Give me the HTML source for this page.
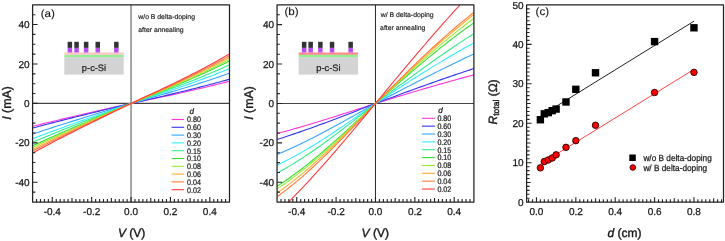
<!DOCTYPE html>
<html><head><meta charset="utf-8"><style>html,body{margin:0;padding:0;background:#fff;width:725px;height:241px;overflow:hidden}svg{display:block;will-change:transform}text{text-rendering:geometricPrecision}</style></head>
<body>
<svg width="725" height="241" viewBox="0 0 725 241" style="font-family:&quot;Liberation Sans&quot;, sans-serif">
<rect width="725" height="241" fill="#fff"/>
<defs>
<clipPath id="clipa"><rect x="32.6" y="4.85" width="196.9" height="197.15"/></clipPath>
<clipPath id="clipb"><rect x="277.05" y="4.9" width="196.84999999999997" height="197.1"/></clipPath>
</defs>
<path d="M131.05 4.85V202.0" stroke="#808080" stroke-width="1.4" fill="none"/>
<path d="M32.6 103.42H229.5" stroke="#444" stroke-width="1.1" fill="none"/>
<g clip-path="url(#clipa)" fill="none" stroke-width="1.1">
<polyline points="32.60,126.29 35.88,125.48 39.16,124.67 42.45,123.87 45.73,123.07 49.01,122.27 52.29,121.48 55.57,120.70 58.85,119.92 62.14,119.14 65.42,118.37 68.70,117.60 71.98,116.83 75.26,116.07 78.54,115.31 81.83,114.55 85.11,113.80 88.39,113.04 91.67,112.30 94.95,111.55 98.23,110.80 101.51,110.06 104.80,109.32 108.08,108.58 111.36,107.84 114.64,107.10 117.92,106.37 121.21,105.63 124.49,104.89 127.77,104.16 131.05,103.42 134.33,102.75 137.61,102.06 140.90,101.38 144.18,100.70 147.46,100.02 150.74,99.33 154.02,98.64 157.30,97.95 160.59,97.26 163.87,96.56 167.15,95.86 170.43,95.15 173.71,94.44 176.99,93.73 180.28,93.00 183.56,92.28 186.84,91.54 190.12,90.80 193.40,90.05 196.68,89.30 199.97,88.54 203.25,87.77 206.53,86.98 209.81,86.20 213.09,85.40 216.37,84.59 219.66,83.77 222.94,82.94 226.22,82.10 229.50,81.25" stroke="#ff33dd"/>
<polyline points="32.60,128.07 35.88,127.19 39.16,126.32 42.45,125.45 45.73,124.59 49.01,123.73 52.29,122.88 55.57,122.04 58.85,121.20 62.14,120.36 65.42,119.52 68.70,118.69 71.98,117.87 75.26,117.05 78.54,116.23 81.83,115.41 85.11,114.60 88.39,113.79 91.67,112.98 94.95,112.18 98.23,111.38 101.51,110.57 104.80,109.78 108.08,108.98 111.36,108.18 114.64,107.39 117.92,106.59 121.21,105.80 124.49,105.01 127.77,104.22 131.05,103.42 134.33,102.68 137.61,101.94 140.90,101.19 144.18,100.45 147.46,99.70 150.74,98.95 154.02,98.20 157.30,97.44 160.59,96.68 163.87,95.92 167.15,95.15 170.43,94.38 173.71,93.60 176.99,92.82 180.28,92.03 183.56,91.24 186.84,90.43 190.12,89.62 193.40,88.81 196.68,87.98 199.97,87.15 203.25,86.30 206.53,85.45 209.81,84.59 213.09,83.71 216.37,82.83 219.66,81.93 222.94,81.03 226.22,80.11 229.50,79.18" stroke="#3333ee"/>
<polyline points="32.60,134.08 35.88,132.99 39.16,131.90 42.45,130.83 45.73,129.76 49.01,128.69 52.29,127.63 55.57,126.58 58.85,125.53 62.14,124.49 65.42,123.45 68.70,122.42 71.98,121.39 75.26,120.37 78.54,119.35 81.83,118.34 85.11,117.33 88.39,116.32 91.67,115.32 94.95,114.31 98.23,113.32 101.51,112.32 104.80,111.33 108.08,110.33 111.36,109.34 114.64,108.35 117.92,107.37 121.21,106.38 124.49,105.40 127.77,104.41 131.05,103.42 134.33,102.50 137.61,101.57 140.90,100.64 144.18,99.71 147.46,98.78 150.74,97.84 154.02,96.90 157.30,95.96 160.59,95.01 163.87,94.06 167.15,93.10 170.43,92.14 173.71,91.17 176.99,90.19 180.28,89.21 183.56,88.21 186.84,87.21 190.12,86.20 193.40,85.18 196.68,84.15 199.97,83.11 203.25,82.06 206.53,80.99 209.81,79.92 213.09,78.83 216.37,77.72 219.66,76.61 222.94,75.47 226.22,74.33 229.50,73.16" stroke="#33a6ff"/>
<polyline points="32.60,138.81 35.88,137.55 39.16,136.30 42.45,135.06 45.73,133.82 49.01,132.59 52.29,131.37 55.57,130.15 58.85,128.94 62.14,127.74 65.42,126.54 68.70,125.35 71.98,124.17 75.26,122.99 78.54,121.81 81.83,120.64 85.11,119.47 88.39,118.31 91.67,117.15 94.95,115.99 98.23,114.84 101.51,113.69 104.80,112.55 108.08,111.40 111.36,110.26 114.64,109.12 117.92,107.98 121.21,106.84 124.49,105.70 127.77,104.56 131.05,103.42 134.33,102.36 137.61,101.29 140.90,100.22 144.18,99.15 147.46,98.08 150.74,97.00 154.02,95.92 157.30,94.84 160.59,93.75 163.87,92.66 167.15,91.55 170.43,90.45 173.71,89.33 176.99,88.21 180.28,87.08 183.56,85.94 186.84,84.78 190.12,83.62 193.40,82.45 196.68,81.26 199.97,80.07 203.25,78.86 206.53,77.63 209.81,76.39 213.09,75.14 216.37,73.87 219.66,72.59 222.94,71.28 226.22,69.97 229.50,68.63" stroke="#33eeff"/>
<polyline points="32.60,142.26 35.88,140.88 39.16,139.51 42.45,138.14 45.73,136.78 49.01,135.43 52.29,134.09 55.57,132.76 58.85,131.43 62.14,130.11 65.42,128.80 68.70,127.49 71.98,126.19 75.26,124.89 78.54,123.60 81.83,122.32 85.11,121.04 88.39,119.76 91.67,118.49 94.95,117.22 98.23,115.96 101.51,114.69 104.80,113.43 108.08,112.18 111.36,110.92 114.64,109.67 117.92,108.42 121.21,107.17 124.49,105.92 127.77,104.67 131.05,103.42 134.33,102.24 137.61,101.06 140.90,99.88 144.18,98.69 147.46,97.50 150.74,96.31 154.02,95.12 157.30,93.92 160.59,92.71 163.87,91.50 167.15,90.28 170.43,89.05 173.71,87.81 176.99,86.57 180.28,85.32 183.56,84.05 186.84,82.78 190.12,81.49 193.40,80.19 196.68,78.88 199.97,77.55 203.25,76.21 206.53,74.86 209.81,73.48 213.09,72.10 216.37,70.69 219.66,69.27 222.94,67.82 226.22,66.36 229.50,64.88" stroke="#33ee88"/>
<polyline points="32.60,145.81 35.88,144.30 39.16,142.80 42.45,141.31 45.73,139.83 49.01,138.36 52.29,136.89 55.57,135.44 58.85,133.99 62.14,132.55 65.42,131.12 68.70,129.69 71.98,128.27 75.26,126.86 78.54,125.45 81.83,124.04 85.11,122.65 88.39,121.25 91.67,119.87 94.95,118.48 98.23,117.10 101.51,115.72 104.80,114.35 108.08,112.98 111.36,111.61 114.64,110.24 117.92,108.88 121.21,107.51 124.49,106.15 127.77,104.79 131.05,103.42 134.33,102.13 137.61,100.83 140.90,99.52 144.18,98.22 147.46,96.91 150.74,95.60 154.02,94.29 157.30,92.97 160.59,91.64 163.87,90.31 167.15,88.97 170.43,87.62 173.71,86.26 176.99,84.89 180.28,83.51 183.56,82.12 186.84,80.72 190.12,79.30 193.40,77.87 196.68,76.43 199.97,74.97 203.25,73.50 206.53,72.01 209.81,70.50 213.09,68.97 216.37,67.43 219.66,65.86 222.94,64.27 226.22,62.67 229.50,61.04" stroke="#33dd33"/>
<polyline points="32.60,147.39 35.88,145.82 39.16,144.27 42.45,142.72 45.73,141.18 49.01,139.66 52.29,138.14 55.57,136.63 58.85,135.13 62.14,133.63 65.42,132.15 68.70,130.67 71.98,129.19 75.26,127.73 78.54,126.27 81.83,124.81 85.11,123.36 88.39,121.92 91.67,120.48 94.95,119.04 98.23,117.61 101.51,116.18 104.80,114.76 108.08,113.33 111.36,111.91 114.64,110.49 117.92,109.08 121.21,107.66 124.49,106.25 127.77,104.84 131.05,103.42 134.33,102.08 137.61,100.73 140.90,99.38 144.18,98.03 147.46,96.67 150.74,95.31 154.02,93.95 157.30,92.58 160.59,91.20 163.87,89.82 167.15,88.43 170.43,87.03 173.71,85.62 176.99,84.20 180.28,82.77 183.56,81.33 186.84,79.87 190.12,78.40 193.40,76.92 196.68,75.43 199.97,73.91 203.25,72.38 206.53,70.84 209.81,69.27 213.09,67.69 216.37,66.09 219.66,64.46 222.94,62.82 226.22,61.15 229.50,59.46" stroke="#99ee33"/>
<polyline points="32.60,149.36 35.88,147.72 39.16,146.10 42.45,144.48 45.73,142.88 49.01,141.28 52.29,139.70 55.57,138.12 58.85,136.55 62.14,134.99 65.42,133.43 68.70,131.89 71.98,130.35 75.26,128.82 78.54,127.29 81.83,125.77 85.11,124.26 88.39,122.75 91.67,121.24 94.95,119.74 98.23,118.25 101.51,116.75 104.80,115.26 108.08,113.78 111.36,112.29 114.64,110.81 117.92,109.33 121.21,107.85 124.49,106.38 127.77,104.90 131.05,103.42 134.33,102.02 137.61,100.61 140.90,99.20 144.18,97.78 147.46,96.37 150.74,94.95 154.02,93.52 157.30,92.09 160.59,90.65 163.87,89.21 167.15,87.75 170.43,86.29 173.71,84.82 176.99,83.34 180.28,81.84 183.56,80.34 186.84,78.82 190.12,77.28 193.40,75.73 196.68,74.17 199.97,72.59 203.25,70.99 206.53,69.38 209.81,67.74 213.09,66.09 216.37,64.41 219.66,62.71 222.94,61.00 226.22,59.25 229.50,57.49" stroke="#ffaa33"/>
<polyline points="32.60,151.04 35.88,149.34 39.16,147.66 42.45,145.98 45.73,144.32 49.01,142.66 52.29,141.02 55.57,139.38 58.85,137.76 62.14,136.14 65.42,134.53 68.70,132.93 71.98,131.33 75.26,129.74 78.54,128.16 81.83,126.59 85.11,125.02 88.39,123.45 91.67,121.89 94.95,120.34 98.23,118.79 101.51,117.24 104.80,115.70 108.08,114.15 111.36,112.62 114.64,111.08 117.92,109.55 121.21,108.02 124.49,106.48 127.77,104.95 131.05,103.42 134.33,101.97 137.61,100.51 140.90,99.04 144.18,97.58 147.46,96.11 150.74,94.64 154.02,93.16 157.30,91.68 160.59,90.19 163.87,88.69 167.15,87.18 170.43,85.67 173.71,84.14 176.99,82.60 180.28,81.06 183.56,79.49 186.84,77.92 190.12,76.33 193.40,74.72 196.68,73.10 199.97,71.46 203.25,69.81 206.53,68.13 209.81,66.44 213.09,64.72 216.37,62.99 219.66,61.23 222.94,59.45 226.22,57.64 229.50,55.81" stroke="#ff7a3d"/>
<polyline points="32.60,152.91 35.88,151.15 39.16,149.40 42.45,147.66 45.73,145.93 49.01,144.21 52.29,142.50 55.57,140.80 58.85,139.11 62.14,137.43 65.42,135.75 68.70,134.09 71.98,132.43 75.26,130.78 78.54,129.13 81.83,127.50 85.11,125.86 88.39,124.24 91.67,122.62 94.95,121.00 98.23,119.39 101.51,117.78 104.80,116.18 108.08,114.58 111.36,112.98 114.64,111.38 117.92,109.79 121.21,108.20 124.49,106.61 127.77,105.01 131.05,103.42 134.33,101.91 137.61,100.39 140.90,98.87 144.18,97.35 147.46,95.82 150.74,94.29 154.02,92.76 157.30,91.22 160.59,89.67 163.87,88.11 167.15,86.54 170.43,84.97 173.71,83.38 176.99,81.79 180.28,80.18 183.56,78.55 186.84,76.92 190.12,75.26 193.40,73.59 196.68,71.91 199.97,70.21 203.25,68.49 206.53,66.75 209.81,64.98 213.09,63.20 216.37,61.40 219.66,59.57 222.94,57.72 226.22,55.84 229.50,53.94" stroke="#ff3b3b"/>
</g>
<path d="M36.54 202.0v-3 M40.48 202.0v-3 M44.41 202.0v-3 M48.35 202.0v-3 M52.29 202.0v-5 M56.23 202.0v-3 M60.17 202.0v-3 M64.10 202.0v-3 M68.04 202.0v-3 M71.98 202.0v-4 M75.92 202.0v-3 M79.86 202.0v-3 M83.79 202.0v-3 M87.73 202.0v-3 M91.67 202.0v-5 M95.61 202.0v-3 M99.55 202.0v-3 M103.48 202.0v-3 M107.42 202.0v-3 M111.36 202.0v-4 M115.30 202.0v-3 M119.24 202.0v-3 M123.17 202.0v-3 M127.11 202.0v-3 M131.05 202.0v-5 M134.99 202.0v-3 M138.93 202.0v-3 M142.86 202.0v-3 M146.80 202.0v-3 M150.74 202.0v-4 M154.68 202.0v-3 M158.62 202.0v-3 M162.55 202.0v-3 M166.49 202.0v-3 M170.43 202.0v-5 M174.37 202.0v-3 M178.31 202.0v-3 M182.24 202.0v-3 M186.18 202.0v-3 M190.12 202.0v-4 M194.06 202.0v-3 M198.00 202.0v-3 M201.93 202.0v-3 M205.87 202.0v-3 M209.81 202.0v-5 M213.75 202.0v-3 M217.69 202.0v-3 M221.62 202.0v-3 M225.56 202.0v-3 M32.6 192.14h2.8 M32.6 182.28h5 M32.6 172.43h2.8 M32.6 162.57h2.8 M32.6 152.71h2.8 M32.6 142.86h5 M32.6 133.00h2.8 M32.6 123.14h2.8 M32.6 113.28h2.8 M32.6 103.42h5 M32.6 93.57h2.8 M32.6 83.71h2.8 M32.6 73.85h2.8 M32.6 64.00h5 M32.6 54.14h2.8 M32.6 44.28h2.8 M32.6 34.42h2.8 M32.6 24.56h5 M32.6 14.71h2.8" stroke="#222" stroke-width="1.1" fill="none"/>
<text x="52.29" y="215.20" font-size="10" text-anchor="middle" fill="#1a1a1a" stroke="#1a1a1a" stroke-width="0.27" >-0.4</text>
<text x="91.67" y="215.20" font-size="10" text-anchor="middle" fill="#1a1a1a" stroke="#1a1a1a" stroke-width="0.27" >-0.2</text>
<text x="131.05" y="215.20" font-size="10" text-anchor="middle" fill="#1a1a1a" stroke="#1a1a1a" stroke-width="0.27" >0.0</text>
<text x="170.43" y="215.20" font-size="10" text-anchor="middle" fill="#1a1a1a" stroke="#1a1a1a" stroke-width="0.27" >0.2</text>
<text x="209.81" y="215.20" font-size="10" text-anchor="middle" fill="#1a1a1a" stroke="#1a1a1a" stroke-width="0.27" >0.4</text>
<text x="29.60" y="185.88" font-size="10" text-anchor="end" fill="#1a1a1a" stroke="#1a1a1a" stroke-width="0.27" >-40</text>
<text x="29.60" y="146.46" font-size="10" text-anchor="end" fill="#1a1a1a" stroke="#1a1a1a" stroke-width="0.27" >-20</text>
<text x="29.60" y="107.02" font-size="10" text-anchor="end" fill="#1a1a1a" stroke="#1a1a1a" stroke-width="0.27" >0</text>
<text x="29.60" y="67.59" font-size="10" text-anchor="end" fill="#1a1a1a" stroke="#1a1a1a" stroke-width="0.27" >20</text>
<text x="29.60" y="28.16" font-size="10" text-anchor="end" fill="#1a1a1a" stroke="#1a1a1a" stroke-width="0.27" >40</text>
<rect x="32.6" y="4.85" width="196.90" height="197.15" fill="none" stroke="#222" stroke-width="1.25" stroke-linejoin="round"/>
<text transform="translate(40.7 17.0) scale(1 0.92)" font-size="11.6" fill="#1a1a1a" stroke="#1a1a1a" stroke-width="0.15">(a)</text>
<text x="138.30" y="19.20" font-size="6.85" text-anchor="start" fill="#1a1a1a" stroke="#1a1a1a" stroke-width="0.16" >w/o B delta-doping</text>
<text x="138.30" y="31.50" font-size="6.85" text-anchor="start" fill="#1a1a1a" stroke="#1a1a1a" stroke-width="0.16" >after annealing</text>
<rect x="64.3" y="57.1" width="59.4" height="17.5" fill="#d3d3d3"/>
<rect x="64.3" y="54.8" width="59.4" height="2.3" fill="#8fef8f"/>
<rect x="64.3" y="52.5" width="59.4" height="2.3" fill="#ffc4c4"/>
<rect x="67.6" y="41.8" width="4.5" height="6.1" fill="#333333"/>
<rect x="67.6" y="47.9" width="4.5" height="4.6" fill="#b84ef0"/>
<rect x="74.3" y="41.8" width="4.5" height="6.1" fill="#333333"/>
<rect x="74.3" y="47.9" width="4.5" height="4.6" fill="#b84ef0"/>
<rect x="83.9" y="41.8" width="4.5" height="6.1" fill="#333333"/>
<rect x="83.9" y="47.9" width="4.5" height="4.6" fill="#b84ef0"/>
<rect x="95.5" y="41.8" width="4.5" height="6.1" fill="#333333"/>
<rect x="95.5" y="47.9" width="4.5" height="4.6" fill="#b84ef0"/>
<rect x="114.1" y="41.8" width="4.5" height="6.1" fill="#333333"/>
<rect x="114.1" y="47.9" width="4.5" height="4.6" fill="#b84ef0"/>
<text x="94.00" y="70.6" font-size="9.3" text-anchor="middle" fill="#222" stroke="#222" stroke-width="0.22">p-c-Si</text>
<text x="189.5" y="113.6" font-size="8" font-style="italic" fill="#1a1a1a" stroke="#1a1a1a" stroke-width="0.24">d</text>
<line x1="171.6" y1="119.50" x2="184.1" y2="119.50" stroke="#ff33dd" stroke-width="1.1"/>
<text transform="translate(187 122.30) scale(0.89 1)" font-size="8" fill="#1a1a1a" stroke="#1a1a1a" stroke-width="0.24">0.80</text>
<line x1="171.6" y1="127.30" x2="184.1" y2="127.30" stroke="#3333ee" stroke-width="1.1"/>
<text transform="translate(187 130.10) scale(0.89 1)" font-size="8" fill="#1a1a1a" stroke="#1a1a1a" stroke-width="0.24">0.60</text>
<line x1="171.6" y1="135.10" x2="184.1" y2="135.10" stroke="#33a6ff" stroke-width="1.1"/>
<text transform="translate(187 137.90) scale(0.89 1)" font-size="8" fill="#1a1a1a" stroke="#1a1a1a" stroke-width="0.24">0.30</text>
<line x1="171.6" y1="142.90" x2="184.1" y2="142.90" stroke="#33eeff" stroke-width="1.1"/>
<text transform="translate(187 145.70) scale(0.89 1)" font-size="8" fill="#1a1a1a" stroke="#1a1a1a" stroke-width="0.24">0.20</text>
<line x1="171.6" y1="150.70" x2="184.1" y2="150.70" stroke="#33ee88" stroke-width="1.1"/>
<text transform="translate(187 153.50) scale(0.89 1)" font-size="8" fill="#1a1a1a" stroke="#1a1a1a" stroke-width="0.24">0.15</text>
<line x1="171.6" y1="158.50" x2="184.1" y2="158.50" stroke="#33dd33" stroke-width="1.1"/>
<text transform="translate(187 161.30) scale(0.89 1)" font-size="8" fill="#1a1a1a" stroke="#1a1a1a" stroke-width="0.24">0.10</text>
<line x1="171.6" y1="166.30" x2="184.1" y2="166.30" stroke="#99ee33" stroke-width="1.1"/>
<text transform="translate(187 169.10) scale(0.89 1)" font-size="8" fill="#1a1a1a" stroke="#1a1a1a" stroke-width="0.24">0.08</text>
<line x1="171.6" y1="174.10" x2="184.1" y2="174.10" stroke="#ffaa33" stroke-width="1.1"/>
<text transform="translate(187 176.90) scale(0.89 1)" font-size="8" fill="#1a1a1a" stroke="#1a1a1a" stroke-width="0.24">0.06</text>
<line x1="171.6" y1="181.90" x2="184.1" y2="181.90" stroke="#ff7a3d" stroke-width="1.1"/>
<text transform="translate(187 184.70) scale(0.89 1)" font-size="8" fill="#1a1a1a" stroke="#1a1a1a" stroke-width="0.24">0.04</text>
<line x1="171.6" y1="189.70" x2="184.1" y2="189.70" stroke="#ff3b3b" stroke-width="1.1"/>
<text transform="translate(187 192.50) scale(0.89 1)" font-size="8" fill="#1a1a1a" stroke="#1a1a1a" stroke-width="0.24">0.02</text>
<text transform="translate(10.5 103) rotate(-90)" font-size="12.4" text-anchor="middle" fill="#1a1a1a" stroke="#1a1a1a" stroke-width="0.4"><tspan font-style="italic">I</tspan> (mA)</text>
<text x="131.60" y="237.20" font-size="12" text-anchor="middle" fill="#1a1a1a" stroke="#1a1a1a" stroke-width="0.40" ><tspan font-style="italic">V</tspan> (V)</text>
<path d="M375.48 4.9V202.0" stroke="#333" stroke-width="1.1" fill="none"/>
<path d="M277.05 103.45H473.9" stroke="#444" stroke-width="1.1" fill="none"/>
<g clip-path="url(#clipb)" fill="none" stroke-width="1.1">
<polyline points="277.05,133.61 280.33,132.73 283.61,131.83 286.89,130.93 290.17,130.01 293.45,129.08 296.74,128.14 300.02,127.19 303.30,126.23 306.58,125.26 309.86,124.28 313.14,123.30 316.42,122.30 319.70,121.30 322.98,120.29 326.26,119.27 329.54,118.24 332.82,117.21 336.11,116.17 339.39,115.13 342.67,114.09 345.95,113.03 349.23,111.98 352.51,110.92 355.79,109.86 359.07,108.80 362.35,107.73 365.63,106.66 368.91,105.59 372.19,104.52 375.48,103.45 378.76,102.45 382.04,101.45 385.32,100.45 388.60,99.45 391.88,98.45 395.16,97.45 398.44,96.46 401.72,95.46 405.00,94.47 408.28,93.49 411.56,92.50 414.84,91.52 418.13,90.55 421.41,89.57 424.69,88.61 427.97,87.64 431.25,86.69 434.53,85.73 437.81,84.79 441.09,83.85 444.37,82.92 447.65,81.99 450.93,81.07 454.21,80.16 457.50,79.26 460.78,78.36 464.06,77.48 467.34,76.60 470.62,75.73 473.90,74.87" stroke="#ff33dd"/>
<polyline points="277.05,139.52 280.33,138.47 283.61,137.41 286.89,136.33 290.17,135.24 293.45,134.14 296.74,133.01 300.02,131.88 303.30,130.74 306.58,129.58 309.86,128.41 313.14,127.23 316.42,126.04 319.70,124.84 322.98,123.63 326.26,122.41 329.54,121.18 332.82,119.95 336.11,118.71 339.39,117.46 342.67,116.20 345.95,114.94 349.23,113.68 352.51,112.41 355.79,111.14 359.07,109.86 362.35,108.58 365.63,107.30 368.91,106.02 372.19,104.73 375.48,103.45 378.76,102.24 382.04,101.03 385.32,99.81 388.60,98.60 391.88,97.40 395.16,96.19 398.44,94.98 401.72,93.78 405.00,92.58 408.28,91.38 411.56,90.19 414.84,89.00 418.13,87.81 421.41,86.63 424.69,85.45 427.97,84.28 431.25,83.11 434.53,81.95 437.81,80.79 441.09,79.64 444.37,78.50 447.65,77.37 450.93,76.24 454.21,75.11 457.50,74.00 460.78,72.90 464.06,71.80 467.34,70.71 470.62,69.63 473.90,68.56" stroke="#3333ee"/>
<polyline points="277.05,154.50 280.33,153.11 283.61,151.69 286.89,150.24 290.17,148.76 293.45,147.25 296.74,145.71 300.02,144.14 303.30,142.56 306.58,140.94 309.86,139.31 313.14,137.65 316.42,135.97 319.70,134.27 322.98,132.56 326.26,130.82 329.54,129.07 332.82,127.31 336.11,125.53 339.39,123.73 342.67,121.93 345.95,120.11 349.23,118.28 352.51,116.45 355.79,114.61 359.07,112.76 362.35,110.90 365.63,109.04 368.91,107.18 372.19,105.32 375.48,103.45 378.76,101.74 382.04,100.02 385.32,98.31 388.60,96.60 391.88,94.89 395.16,93.18 398.44,91.47 401.72,89.77 405.00,88.07 408.28,86.38 411.56,84.68 414.84,83.00 418.13,81.32 421.41,79.64 424.69,77.97 427.97,76.31 431.25,74.66 434.53,73.01 437.81,71.37 441.09,69.74 444.37,68.12 447.65,66.50 450.93,64.90 454.21,63.30 457.50,61.72 460.78,60.15 464.06,58.59 467.34,57.04 470.62,55.50 473.90,53.98" stroke="#33a6ff"/>
<polyline points="277.05,165.14 280.33,163.59 283.61,161.98 286.89,160.32 290.17,158.62 293.45,156.87 296.74,155.07 300.02,153.24 303.30,151.36 306.58,149.45 309.86,147.50 313.14,145.51 316.42,143.49 319.70,141.44 322.98,139.36 326.26,137.25 329.54,135.12 332.82,132.96 336.11,130.78 339.39,128.57 342.67,126.35 345.95,124.11 349.23,121.85 352.51,119.58 355.79,117.30 359.07,115.01 362.35,112.71 365.63,110.40 368.91,108.09 372.19,105.77 375.48,103.45 378.76,101.30 382.04,99.15 385.32,97.01 388.60,94.87 391.88,92.73 395.16,90.59 398.44,88.46 401.72,86.34 405.00,84.22 408.28,82.11 411.56,80.01 414.84,77.92 418.13,75.84 421.41,73.77 424.69,71.72 427.97,69.67 431.25,67.64 434.53,65.63 437.81,63.63 441.09,61.65 444.37,59.69 447.65,57.74 450.93,55.81 454.21,53.91 457.50,52.02 460.78,50.16 464.06,48.32 467.34,46.50 470.62,44.71 473.90,42.94" stroke="#33eeff"/>
<polyline points="277.05,173.03 280.33,171.25 283.61,169.43 286.89,167.54 290.17,165.61 293.45,163.63 296.74,161.59 300.02,159.52 303.30,157.40 306.58,155.23 309.86,153.03 313.14,150.79 316.42,148.51 319.70,146.19 322.98,143.85 326.26,141.47 329.54,139.07 332.82,136.63 336.11,134.18 339.39,131.70 342.67,129.20 345.95,126.68 349.23,124.14 352.51,121.59 355.79,119.02 359.07,116.44 362.35,113.86 365.63,111.26 368.91,108.66 372.19,106.06 375.48,103.45 378.76,100.99 382.04,98.54 385.32,96.08 388.60,93.63 391.88,91.18 395.16,88.74 398.44,86.30 401.72,83.87 405.00,81.44 408.28,79.02 411.56,76.62 414.84,74.22 418.13,71.83 421.41,69.45 424.69,67.09 427.97,64.73 431.25,62.40 434.53,60.07 437.81,57.76 441.09,55.47 444.37,53.20 447.65,50.95 450.93,48.71 454.21,46.50 457.50,44.30 460.78,42.13 464.06,39.98 467.34,37.85 470.62,35.75 473.90,33.68" stroke="#33ee88"/>
<polyline points="277.05,186.23 280.33,184.13 283.61,181.96 286.89,179.72 290.17,177.43 293.45,175.07 296.74,172.66 300.02,170.19 303.30,167.66 306.58,165.09 309.86,162.47 313.14,159.80 316.42,157.09 319.70,154.34 322.98,151.55 326.26,148.72 329.54,145.86 332.82,142.96 336.11,140.04 339.39,137.09 342.67,134.11 345.95,131.11 349.23,128.09 352.51,125.05 355.79,121.99 359.07,118.92 362.35,115.84 365.63,112.75 368.91,109.66 372.19,106.55 375.48,103.45 378.76,100.56 382.04,97.67 385.32,94.78 388.60,91.89 391.88,89.02 395.16,86.14 398.44,83.28 401.72,80.43 405.00,77.58 408.28,74.75 411.56,71.94 414.84,69.13 418.13,66.35 421.41,63.58 424.69,60.83 427.97,58.11 431.25,55.40 434.53,52.72 437.81,50.06 441.09,47.43 444.37,44.82 447.65,42.25 450.93,39.70 454.21,37.18 457.50,34.70 460.78,32.26 464.06,29.84 467.34,27.47 470.62,25.13 473.90,22.84" stroke="#33dd33"/>
<polyline points="277.05,188.79 280.33,186.65 283.61,184.44 286.89,182.16 290.17,179.81 293.45,177.39 296.74,174.92 300.02,172.38 303.30,169.79 306.58,167.15 309.86,164.45 313.14,161.71 316.42,158.91 319.70,156.08 322.98,153.20 326.26,150.28 329.54,147.32 332.82,144.33 336.11,141.31 339.39,138.26 342.67,135.18 345.95,132.08 349.23,128.95 352.51,125.81 355.79,122.65 359.07,119.47 362.35,116.28 365.63,113.08 368.91,109.88 372.19,106.66 375.48,103.45 378.76,100.41 382.04,97.36 385.32,94.33 388.60,91.29 391.88,88.26 395.16,85.24 398.44,82.22 401.72,79.22 405.00,76.22 408.28,73.24 411.56,70.27 414.84,67.32 418.13,64.39 421.41,61.47 424.69,58.57 427.97,55.69 431.25,52.83 434.53,50.00 437.81,47.19 441.09,44.40 444.37,41.65 447.65,38.92 450.93,36.22 454.21,33.56 457.50,30.93 460.78,28.33 464.06,25.76 467.34,23.24 470.62,20.75 473.90,18.30" stroke="#99ee33"/>
<polyline points="277.05,192.93 280.33,190.65 283.61,188.30 286.89,185.88 290.17,183.39 293.45,180.84 296.74,178.23 300.02,175.56 303.30,172.83 306.58,170.05 309.86,167.21 313.14,164.33 316.42,161.40 319.70,158.42 322.98,155.41 326.26,152.35 329.54,149.26 332.82,146.13 336.11,142.97 339.39,139.78 342.67,136.56 345.95,133.32 349.23,130.06 352.51,126.78 355.79,123.48 359.07,120.16 362.35,116.83 365.63,113.50 368.91,110.15 372.19,106.80 375.48,103.45 378.76,100.27 382.04,97.10 385.32,93.93 388.60,90.76 391.88,87.60 395.16,84.44 398.44,81.30 401.72,78.16 405.00,75.03 408.28,71.92 411.56,68.82 414.84,65.74 418.13,62.68 421.41,59.63 424.69,56.60 427.97,53.60 431.25,50.61 434.53,47.65 437.81,44.72 441.09,41.82 444.37,38.94 447.65,36.09 450.93,33.27 454.21,30.49 457.50,27.74 460.78,25.03 464.06,22.35 467.34,19.71 470.62,17.12 473.90,14.56" stroke="#ffaa33"/>
<polyline points="277.05,196.68 280.33,194.32 283.61,191.89 286.89,189.38 290.17,186.80 293.45,184.15 296.74,181.44 300.02,178.66 303.30,175.83 306.58,172.93 309.86,169.98 313.14,166.98 316.42,163.93 319.70,160.83 322.98,157.68 326.26,154.50 329.54,151.27 332.82,148.01 336.11,144.71 339.39,141.39 342.67,138.03 345.95,134.65 349.23,131.24 352.51,127.81 355.79,124.37 359.07,120.90 362.35,117.43 365.63,113.94 368.91,110.45 372.19,106.95 375.48,103.45 378.76,100.17 382.04,96.89 385.32,93.61 388.60,90.34 391.88,87.08 395.16,83.82 398.44,80.57 401.72,77.34 405.00,74.11 408.28,70.91 411.56,67.72 414.84,64.54 418.13,61.39 421.41,58.26 424.69,55.15 427.97,52.06 431.25,49.01 434.53,45.98 437.81,42.98 441.09,40.01 444.37,37.07 447.65,34.17 450.93,31.30 454.21,28.47 457.50,25.68 460.78,22.94 464.06,20.23 467.34,17.57 470.62,14.96 473.90,12.39" stroke="#ff7a3d"/>
<polyline points="277.05,213.04 280.33,209.95 283.61,206.80 286.89,203.60 290.17,200.34 293.45,197.03 296.74,193.67 300.02,190.27 303.30,186.82 306.58,183.33 309.86,179.79 313.14,176.22 316.42,172.61 319.70,168.96 322.98,165.28 326.26,161.57 329.54,157.83 332.82,154.06 336.11,150.27 339.39,146.45 342.67,142.61 345.95,138.75 349.23,134.87 352.51,130.98 355.79,127.07 359.07,123.15 362.35,119.22 365.63,115.29 368.91,111.34 372.19,107.40 375.48,103.45 378.76,99.49 382.04,95.53 385.32,91.58 388.60,87.63 391.88,83.68 395.16,79.74 398.44,75.81 401.72,71.89 405.00,67.97 408.28,64.07 411.56,60.17 414.84,56.30 418.13,52.43 421.41,48.58 424.69,44.75 427.97,40.94 431.25,37.14 434.53,33.37 437.81,29.62 441.09,25.89 444.37,22.18 447.65,18.50 450.93,14.85 454.21,11.22 457.50,7.63 460.78,4.06 464.06,0.52 467.34,-2.98 470.62,-6.45 473.90,-9.88" stroke="#ff3b3b"/>
</g>
<path d="M280.99 202.0v-3 M284.92 202.0v-3 M288.86 202.0v-3 M292.80 202.0v-3 M296.74 202.0v-5 M300.67 202.0v-3 M304.61 202.0v-3 M308.55 202.0v-3 M312.48 202.0v-3 M316.42 202.0v-4 M320.36 202.0v-3 M324.29 202.0v-3 M328.23 202.0v-3 M332.17 202.0v-3 M336.11 202.0v-5 M340.04 202.0v-3 M343.98 202.0v-3 M347.92 202.0v-3 M351.85 202.0v-3 M355.79 202.0v-4 M359.73 202.0v-3 M363.66 202.0v-3 M367.60 202.0v-3 M371.54 202.0v-3 M375.48 202.0v-5 M379.41 202.0v-3 M383.35 202.0v-3 M387.29 202.0v-3 M391.22 202.0v-3 M395.16 202.0v-4 M399.10 202.0v-3 M403.03 202.0v-3 M406.97 202.0v-3 M410.91 202.0v-3 M414.85 202.0v-5 M418.78 202.0v-3 M422.72 202.0v-3 M426.66 202.0v-3 M430.59 202.0v-3 M434.53 202.0v-4 M438.47 202.0v-3 M442.40 202.0v-3 M446.34 202.0v-3 M450.28 202.0v-3 M454.21 202.0v-5 M458.15 202.0v-3 M462.09 202.0v-3 M466.03 202.0v-3 M469.96 202.0v-3 M277.05 192.15h2.8 M277.05 182.29h5 M277.05 172.44h2.8 M277.05 162.58h2.8 M277.05 152.72h2.8 M277.05 142.87h5 M277.05 133.01h2.8 M277.05 123.16h2.8 M277.05 113.31h2.8 M277.05 103.45h5 M277.05 93.59h2.8 M277.05 83.74h2.8 M277.05 73.88h2.8 M277.05 64.03h5 M277.05 54.18h2.8 M277.05 44.32h2.8 M277.05 34.47h2.8 M277.05 24.61h5 M277.05 14.76h2.8" stroke="#222" stroke-width="1.1" fill="none"/>
<text x="296.74" y="215.20" font-size="10" text-anchor="middle" fill="#1a1a1a" stroke="#1a1a1a" stroke-width="0.27" >-0.4</text>
<text x="336.11" y="215.20" font-size="10" text-anchor="middle" fill="#1a1a1a" stroke="#1a1a1a" stroke-width="0.27" >-0.2</text>
<text x="375.48" y="215.20" font-size="10" text-anchor="middle" fill="#1a1a1a" stroke="#1a1a1a" stroke-width="0.27" >0.0</text>
<text x="414.84" y="215.20" font-size="10" text-anchor="middle" fill="#1a1a1a" stroke="#1a1a1a" stroke-width="0.27" >0.2</text>
<text x="454.21" y="215.20" font-size="10" text-anchor="middle" fill="#1a1a1a" stroke="#1a1a1a" stroke-width="0.27" >0.4</text>
<text x="274.05" y="185.89" font-size="10" text-anchor="end" fill="#1a1a1a" stroke="#1a1a1a" stroke-width="0.27" >-40</text>
<text x="274.05" y="146.47" font-size="10" text-anchor="end" fill="#1a1a1a" stroke="#1a1a1a" stroke-width="0.27" >-20</text>
<text x="274.05" y="107.05" font-size="10" text-anchor="end" fill="#1a1a1a" stroke="#1a1a1a" stroke-width="0.27" >0</text>
<text x="274.05" y="67.63" font-size="10" text-anchor="end" fill="#1a1a1a" stroke="#1a1a1a" stroke-width="0.27" >20</text>
<text x="274.05" y="28.21" font-size="10" text-anchor="end" fill="#1a1a1a" stroke="#1a1a1a" stroke-width="0.27" >40</text>
<rect x="277.05" y="4.9" width="196.85" height="197.10" fill="none" stroke="#222" stroke-width="1.25" stroke-linejoin="round"/>
<text transform="translate(284.5 14.9) scale(1 0.92)" font-size="11.6" fill="#1a1a1a" stroke="#1a1a1a" stroke-width="0.15">(b)</text>
<text x="380.80" y="17.00" font-size="6.85" text-anchor="start" fill="#1a1a1a" stroke="#1a1a1a" stroke-width="0.16" >w/ B delta-doping</text>
<text x="380.10" y="30.00" font-size="6.85" text-anchor="start" fill="#1a1a1a" stroke="#1a1a1a" stroke-width="0.16" >after annealing</text>
<rect x="298.7" y="57.1" width="59.4" height="17.5" fill="#d3d3d3"/>
<rect x="298.7" y="54.8" width="59.4" height="2.3" fill="#8fef8f"/>
<rect x="298.7" y="52.5" width="59.4" height="2.3" fill="#ff8a8a"/>
<rect x="301.9" y="41.8" width="4.5" height="6.1" fill="#333333"/>
<rect x="301.9" y="47.9" width="4.5" height="4.6" fill="#b84ef0"/>
<rect x="308.4" y="41.8" width="4.5" height="6.1" fill="#333333"/>
<rect x="308.4" y="47.9" width="4.5" height="4.6" fill="#b84ef0"/>
<rect x="318.1" y="41.8" width="4.5" height="6.1" fill="#333333"/>
<rect x="318.1" y="47.9" width="4.5" height="4.6" fill="#b84ef0"/>
<rect x="329.8" y="41.8" width="4.5" height="6.1" fill="#333333"/>
<rect x="329.8" y="47.9" width="4.5" height="4.6" fill="#b84ef0"/>
<rect x="348.4" y="41.8" width="4.5" height="6.1" fill="#333333"/>
<rect x="348.4" y="47.9" width="4.5" height="4.6" fill="#b84ef0"/>
<text x="328.40" y="70.6" font-size="9.3" text-anchor="middle" fill="#222" stroke="#222" stroke-width="0.22">p-c-Si</text>
<text x="438.2" y="112.6" font-size="8" font-style="italic" fill="#1a1a1a" stroke="#1a1a1a" stroke-width="0.24">d</text>
<line x1="421.9" y1="118.30" x2="434.9" y2="118.30" stroke="#ff33dd" stroke-width="1.1"/>
<text transform="translate(437.4 121.10) scale(0.89 1)" font-size="8" fill="#1a1a1a" stroke="#1a1a1a" stroke-width="0.24">0.80</text>
<line x1="421.9" y1="126.16" x2="434.9" y2="126.16" stroke="#3333ee" stroke-width="1.1"/>
<text transform="translate(437.4 128.96) scale(0.89 1)" font-size="8" fill="#1a1a1a" stroke="#1a1a1a" stroke-width="0.24">0.60</text>
<line x1="421.9" y1="134.02" x2="434.9" y2="134.02" stroke="#33a6ff" stroke-width="1.1"/>
<text transform="translate(437.4 136.82) scale(0.89 1)" font-size="8" fill="#1a1a1a" stroke="#1a1a1a" stroke-width="0.24">0.30</text>
<line x1="421.9" y1="141.88" x2="434.9" y2="141.88" stroke="#33eeff" stroke-width="1.1"/>
<text transform="translate(437.4 144.68) scale(0.89 1)" font-size="8" fill="#1a1a1a" stroke="#1a1a1a" stroke-width="0.24">0.20</text>
<line x1="421.9" y1="149.74" x2="434.9" y2="149.74" stroke="#33ee88" stroke-width="1.1"/>
<text transform="translate(437.4 152.54) scale(0.89 1)" font-size="8" fill="#1a1a1a" stroke="#1a1a1a" stroke-width="0.24">0.15</text>
<line x1="421.9" y1="157.60" x2="434.9" y2="157.60" stroke="#33dd33" stroke-width="1.1"/>
<text transform="translate(437.4 160.40) scale(0.89 1)" font-size="8" fill="#1a1a1a" stroke="#1a1a1a" stroke-width="0.24">0.10</text>
<line x1="421.9" y1="165.46" x2="434.9" y2="165.46" stroke="#99ee33" stroke-width="1.1"/>
<text transform="translate(437.4 168.26) scale(0.89 1)" font-size="8" fill="#1a1a1a" stroke="#1a1a1a" stroke-width="0.24">0.08</text>
<line x1="421.9" y1="173.32" x2="434.9" y2="173.32" stroke="#ffaa33" stroke-width="1.1"/>
<text transform="translate(437.4 176.12) scale(0.89 1)" font-size="8" fill="#1a1a1a" stroke="#1a1a1a" stroke-width="0.24">0.06</text>
<line x1="421.9" y1="181.18" x2="434.9" y2="181.18" stroke="#ff7a3d" stroke-width="1.1"/>
<text transform="translate(437.4 183.98) scale(0.89 1)" font-size="8" fill="#1a1a1a" stroke="#1a1a1a" stroke-width="0.24">0.04</text>
<line x1="421.9" y1="189.04" x2="434.9" y2="189.04" stroke="#ff3b3b" stroke-width="1.1"/>
<text transform="translate(437.4 191.84) scale(0.89 1)" font-size="8" fill="#1a1a1a" stroke="#1a1a1a" stroke-width="0.24">0.02</text>
<text transform="translate(253.3 103) rotate(-90)" font-size="12.4" text-anchor="middle" fill="#1a1a1a" stroke="#1a1a1a" stroke-width="0.4"><tspan font-style="italic">I</tspan> (mA)</text>
<text x="375.30" y="237.20" font-size="12" text-anchor="middle" fill="#1a1a1a" stroke="#1a1a1a" stroke-width="0.40" ><tspan font-style="italic">V</tspan> (V)</text>
<path d="M528.57 202.2v-3 M532.51 202.2v-3 M536.45 202.2v-5 M540.38 202.2v-3 M544.32 202.2v-3 M548.26 202.2v-3 M552.20 202.2v-3 M556.13 202.2v-4 M560.07 202.2v-3 M564.01 202.2v-3 M567.95 202.2v-3 M571.89 202.2v-3 M575.83 202.2v-5 M579.76 202.2v-3 M583.70 202.2v-3 M587.64 202.2v-3 M591.58 202.2v-3 M595.51 202.2v-4 M599.45 202.2v-3 M603.39 202.2v-3 M607.33 202.2v-3 M611.27 202.2v-3 M615.21 202.2v-5 M619.14 202.2v-3 M623.08 202.2v-3 M627.02 202.2v-3 M630.96 202.2v-3 M634.89 202.2v-4 M638.83 202.2v-3 M642.77 202.2v-3 M646.71 202.2v-3 M650.65 202.2v-3 M654.59 202.2v-5 M658.52 202.2v-3 M662.46 202.2v-3 M666.40 202.2v-3 M670.34 202.2v-3 M674.27 202.2v-4 M678.21 202.2v-3 M682.15 202.2v-3 M686.09 202.2v-3 M690.03 202.2v-3 M693.97 202.2v-5 M697.90 202.2v-3 M701.84 202.2v-3 M705.78 202.2v-3 M709.72 202.2v-3 M713.65 202.2v-4 M717.59 202.2v-3 M721.53 202.2v-3 M526.6 198.25h3 M526.6 194.31h3 M526.6 190.36h3 M526.6 186.42h3 M526.6 182.47h4 M526.6 178.52h3 M526.6 174.58h3 M526.6 170.63h3 M526.6 166.69h3 M526.6 162.74h5 M526.6 158.79h3 M526.6 154.85h3 M526.6 150.90h3 M526.6 146.96h3 M526.6 143.01h4 M526.6 139.06h3 M526.6 135.12h3 M526.6 131.17h3 M526.6 127.23h3 M526.6 123.28h5 M526.6 119.33h3 M526.6 115.39h3 M526.6 111.44h3 M526.6 107.50h3 M526.6 103.55h4 M526.6 99.60h3 M526.6 95.66h3 M526.6 91.71h3 M526.6 87.77h3 M526.6 83.82h5 M526.6 79.87h3 M526.6 75.93h3 M526.6 71.98h3 M526.6 68.04h3 M526.6 64.09h4 M526.6 60.14h3 M526.6 56.20h3 M526.6 52.25h3 M526.6 48.31h3 M526.6 44.36h5 M526.6 40.41h3 M526.6 36.47h3 M526.6 32.52h3 M526.6 28.58h3 M526.6 24.63h4 M526.6 20.68h3 M526.6 16.74h3 M526.6 12.79h3 M526.6 8.85h3" stroke="#222" stroke-width="1.1" fill="none"/>
<rect x="526.6" y="4.9" width="196.90" height="197.30" fill="none" stroke="#222" stroke-width="1.25" stroke-linejoin="round"/>
<text x="536.45" y="215.20" font-size="10" text-anchor="middle" fill="#1a1a1a" stroke="#1a1a1a" stroke-width="0.27" >0.0</text>
<text x="575.83" y="215.20" font-size="10" text-anchor="middle" fill="#1a1a1a" stroke="#1a1a1a" stroke-width="0.27" >0.2</text>
<text x="615.21" y="215.20" font-size="10" text-anchor="middle" fill="#1a1a1a" stroke="#1a1a1a" stroke-width="0.27" >0.4</text>
<text x="654.59" y="215.20" font-size="10" text-anchor="middle" fill="#1a1a1a" stroke="#1a1a1a" stroke-width="0.27" >0.6</text>
<text x="693.97" y="215.20" font-size="10" text-anchor="middle" fill="#1a1a1a" stroke="#1a1a1a" stroke-width="0.27" >0.8</text>
<text x="523.60" y="205.80" font-size="10" text-anchor="end" fill="#1a1a1a" stroke="#1a1a1a" stroke-width="0.27" >0</text>
<text x="523.60" y="166.34" font-size="10" text-anchor="end" fill="#1a1a1a" stroke="#1a1a1a" stroke-width="0.27" >10</text>
<text x="523.60" y="126.88" font-size="10" text-anchor="end" fill="#1a1a1a" stroke="#1a1a1a" stroke-width="0.27" >20</text>
<text x="523.60" y="87.42" font-size="10" text-anchor="end" fill="#1a1a1a" stroke="#1a1a1a" stroke-width="0.27" >30</text>
<text x="523.60" y="47.96" font-size="10" text-anchor="end" fill="#1a1a1a" stroke="#1a1a1a" stroke-width="0.27" >40</text>
<text x="523.60" y="8.50" font-size="10" text-anchor="end" fill="#1a1a1a" stroke="#1a1a1a" stroke-width="0.27" >50</text>
<text transform="translate(535.6 15.2) scale(1 0.92)" font-size="11.6" fill="#1a1a1a" stroke="#1a1a1a" stroke-width="0.15">(c)</text>
<line x1="540.38" y1="116.09" x2="693.97" y2="21.20" stroke="#222" stroke-width="1"/>
<line x1="540.38" y1="164.17" x2="693.97" y2="69.36" stroke="#ff4444" stroke-width="1"/>
<rect x="536.68" y="116.03" width="7.4" height="7.4" fill="#000"/>
<rect x="540.62" y="110.11" width="7.4" height="7.4" fill="#000"/>
<rect x="544.56" y="108.93" width="7.4" height="7.4" fill="#000"/>
<rect x="548.50" y="106.95" width="7.4" height="7.4" fill="#000"/>
<rect x="552.43" y="105.37" width="7.4" height="7.4" fill="#000"/>
<rect x="562.28" y="98.27" width="7.4" height="7.4" fill="#000"/>
<rect x="572.12" y="85.64" width="7.4" height="7.4" fill="#000"/>
<rect x="591.81" y="69.07" width="7.4" height="7.4" fill="#000"/>
<rect x="650.88" y="37.90" width="7.4" height="7.4" fill="#000"/>
<rect x="690.26" y="24.09" width="7.4" height="7.4" fill="#000"/>
<circle cx="540.38" cy="167.87" r="3.25" fill="#ff0000" stroke="#220000" stroke-width="0.9"/>
<circle cx="544.32" cy="161.56" r="3.25" fill="#ff0000" stroke="#220000" stroke-width="0.9"/>
<circle cx="548.26" cy="159.98" r="3.25" fill="#ff0000" stroke="#220000" stroke-width="0.9"/>
<circle cx="552.20" cy="158.00" r="3.25" fill="#ff0000" stroke="#220000" stroke-width="0.9"/>
<circle cx="556.13" cy="154.85" r="3.25" fill="#ff0000" stroke="#220000" stroke-width="0.9"/>
<circle cx="565.98" cy="147.35" r="3.25" fill="#ff0000" stroke="#220000" stroke-width="0.9"/>
<circle cx="575.83" cy="140.64" r="3.25" fill="#ff0000" stroke="#220000" stroke-width="0.9"/>
<circle cx="595.51" cy="125.25" r="3.25" fill="#ff0000" stroke="#220000" stroke-width="0.9"/>
<circle cx="654.59" cy="92.50" r="3.25" fill="#ff0000" stroke="#220000" stroke-width="0.9"/>
<circle cx="693.97" cy="72.38" r="3.25" fill="#ff0000" stroke="#220000" stroke-width="0.9"/>
<rect x="629.3" y="154.5" width="6.5" height="6.5" fill="#000"/>
<circle cx="632.8" cy="167.5" r="2.8" fill="#ff0000" stroke="#330000" stroke-width="0.9"/>
<text transform="translate(643.4 160.6) scale(0.93 1)" font-size="8.9" fill="#1a1a1a" stroke="#1a1a1a" stroke-width="0.25">w/o B delta-doping</text>
<text transform="translate(643.4 170.5) scale(0.93 1)" font-size="8.9" fill="#1a1a1a" stroke="#1a1a1a" stroke-width="0.25">w/ B delta-doping</text>
<text transform="translate(496.6 101.9) rotate(-90)" font-size="12" text-anchor="middle" fill="#1a1a1a" stroke="#1a1a1a" stroke-width="0.4"><tspan font-style="italic">R</tspan><tspan font-size="8.5" dy="2.5">total</tspan><tspan dy="-2.5"> (Ω)</tspan></text>
<text x="624.50" y="237.20" font-size="12" text-anchor="middle" fill="#1a1a1a" stroke="#1a1a1a" stroke-width="0.40" ><tspan font-style="italic">d</tspan> (cm)</text>
</svg>
</body></html>
